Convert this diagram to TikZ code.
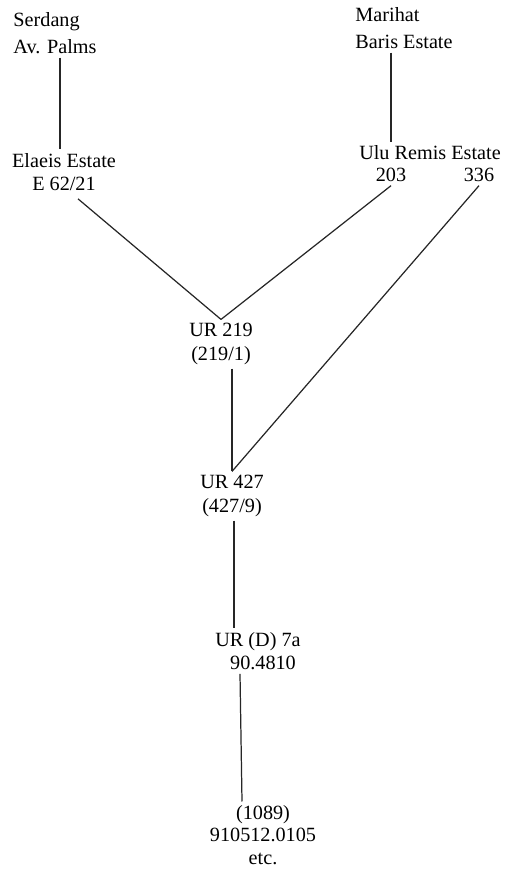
\documentclass[tikz,border=0pt]{standalone}
\usepackage{fontspec}
\setmainfont{Liberation Serif}
\usetikzlibrary{positioning,calc}
\tikzset{
  tag/.style={inner sep=2pt,align=center,font=\fontsize{11.5}{13.5}\selectfont},
  toptag/.style={tag,align=left},
  lineage/.style={draw=black!85,line width=0.7pt},
}

\begin{document}
\begin{tikzpicture}
\useasboundingbox (0,0) rectangle (10.24,-17.42);
% parent palms
\node[toptag] (serdang) at (1.10,-0.66) {Serdang\\[2pt]Av. Palms};
\node[toptag] (marihat) at (8.08,-0.56) {Marihat\\[2pt]Baris Estate};
% estates
\node[tag] (elaeis) at (1.28,-3.44) {Elaeis Estate\\E 62/21};
\node[tag] (ulu) at (8.60,-3.06) {Ulu Remis Estate};
\node[tag] (u203) at (7.82,-3.50) {203};
\node[tag] (u336) at (9.58,-3.50) {336};
% crosses
\node[tag] (ur219) at (4.42,-6.88) {UR 219\\(219/1)};
\node[tag] (ur427) at (4.64,-9.92) {UR 427\\(427/9)};
\node[tag] (ur7a) at (5.16,-13.02) {UR (D) 7a\\\hspace*{0.2cm}90.4810};
\node[tag,font=\fontsize{11.5}{12.8}\selectfont] (final) at (5.26,-16.70) {(1089)\\910512.0105\\etc.};

\draw[lineage] ([xshift=0.1cm]serdang.south) -- ([xshift=0.1cm]serdang.south |- elaeis.north);
\draw[lineage] (u203.center |- marihat.south) -- (u203.center |- ulu.north);
\draw[lineage] ([xshift=0.28cm,yshift=-0.08cm]elaeis.south) -- (ur219.north);
\draw[lineage] (u203.south) -- (ur219.north);
\draw[lineage] (u336.south) -- (ur427.north);
\draw[lineage] (ur219.south -| ur427.north) -- (ur427.north);
\draw[lineage] ([xshift=0.04cm]ur427.south) -- ([xshift=0.04cm]ur427.south |- ur7a.north);
\draw[lineage] ([xshift=-0.36cm]ur7a.south) -- ([xshift=-0.42cm]final.north);
\end{tikzpicture}
\end{document}
